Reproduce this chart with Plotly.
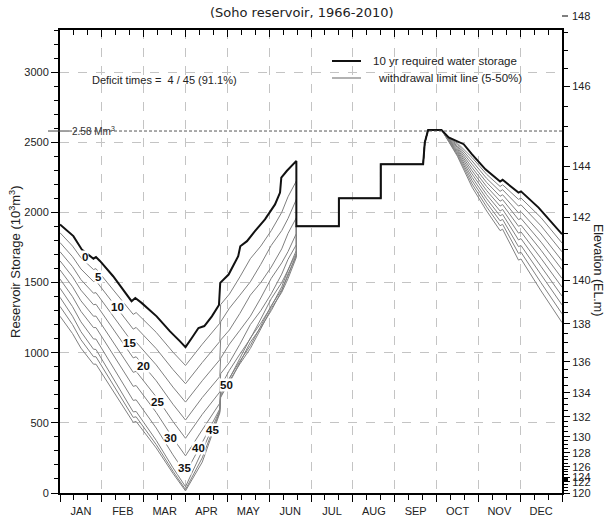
import numpy as np
import plotly.graph_objects as go

# ---------------- data ----------------
month_labels = ["JAN", "FEB", "MAR", "APR", "MAY", "JUN", "JUL", "AUG", "SEP", "OCT", "NOV", "DEC"]
storage_ticks = [0, 500, 1000, 1500, 2000, 2500, 3000]
elev_labels = [148, 146, 144, 142, 140, 138, 136, 134, 132, 130, 128, 126, 124, 122, 120]
elev_storage = [3407, 2900, 2329, 1964, 1514, 1207, 936, 714, 543, 400, 286, 186, 114, 79, 0]
limit_storage = 2580
curve_labels = ["0", "5", "10", "15", "20", "25", "30", "35", "40", "45", "50"]

# 10 yr required water storage (x in months from Jan 1)
black_x = [0, 0.32, 0.52, 0.72, 0.80, 0.86, 0.96, 1.27, 1.60, 1.71, 1.80, 1.95, 2.31, 2.63, 2.87, 3.0,
           3.15, 3.31, 3.45, 3.63, 3.80, 3.83, 4.03, 4.26, 4.31, 4.47, 4.66, 4.90, 5.14, 5.26, 5.29,
           5.42, 5.65, 5.65, 6.667, 6.667, 7.667, 7.667, 8.68, 8.72, 8.80, 9.12, 9.29, 9.45, 9.65,
           9.85, 10.17, 10.52, 10.58, 10.96, 11.02, 11.44, 12.0]
black_y = [1914, 1831, 1736, 1690, 1670, 1682, 1652, 1545, 1414, 1367, 1390, 1355, 1259, 1152, 1081, 1040,
           1105, 1176, 1190, 1259, 1340, 1498, 1557, 1688, 1759, 1795, 1867, 1950, 2057, 2141, 2248,
           2295, 2367, 1902, 1902, 2100, 2100, 2343, 2343, 2498, 2588, 2588, 2534, 2510, 2486,
           2414, 2307, 2220, 2232, 2141, 2150, 2034, 1845]

# withdrawal limit lines (5-50%)
lim_x = [0, 0.3, 0.5, 0.8, 0.86, 1.3, 1.75, 1.82, 2.3, 2.7, 3.0,
         3.4, 3.82, 3.84, 4.05, 4.3, 4.55, 4.8, 5.05, 5.3, 5.45, 5.65, 5.65,
         6.667, 6.667, 7.667, 7.667, 8.68, 8.72, 8.80, 9.12,
         9.3, 9.5, 9.85, 10.2, 10.52, 10.58, 10.96, 11.02, 11.5, 12.0]
lim05 = [1855, 1760, 1677, 1593, 1599, 1440, 1273, 1286, 1145, 1004, 909,
         1060, 1210, 1343, 1418, 1540, 1670, 1760, 1870, 2000, 2111, 2224, 1902,
         1902, 2100, 2100, 2343, 2343, 2498, 2588, 2588,
         2529, 2494, 2391, 2271, 2185, 2197, 2093, 2102, 1962, 1782]
lim10 = [1785, 1684, 1597, 1507, 1512, 1344, 1168, 1180, 1029, 880, 779,
         930, 1080, 1220, 1317, 1410, 1505, 1630, 1765, 1870, 1956, 2093, 1902,
         1902, 2100, 2100, 2343, 2343, 2498, 2588, 2588,
         2526, 2484, 2367, 2242, 2150, 2162, 2045, 2054, 1904, 1719]
lim15 = [1720, 1613, 1521, 1424, 1428, 1250, 1065, 1075, 913, 755, 648,
         800, 950, 1090, 1162, 1280, 1410, 1500, 1610, 1740, 1850, 1962, 1902,
         1902, 2100, 2100, 2343, 2343, 2498, 2588, 2588,
         2522, 2473, 2344, 2213, 2115, 2126, 1997, 2005, 1846, 1656]
lim20 = [1655, 1541, 1446, 1342, 1345, 1158, 963, 971, 800, 633, 520,
         680, 830, 960, 1061, 1160, 1260, 1390, 1530, 1640, 1720, 1850, 1902,
         1902, 2100, 2100, 2343, 2343, 2498, 2588, 2588,
         2519, 2463, 2320, 2184, 2080, 2091, 1949, 1957, 1788, 1593]
lim25 = [1590, 1470, 1370, 1260, 1261, 1065, 860, 867, 685, 510, 390,
         560, 720, 850, 931, 1060, 1200, 1300, 1420, 1560, 1665, 1770, 1902,
         1902, 2100, 2100, 2343, 2343, 2498, 2588, 2588,
         2516, 2452, 2297, 2155, 2045, 2056, 1901, 1909, 1730, 1530]
lim30 = [1525, 1399, 1295, 1179, 1179, 974, 760, 766, 574, 391, 265,
         450, 640, 760, 875, 990, 1100, 1240, 1385, 1500, 1589, 1730, 1902,
         1902, 2100, 2100, 2343, 2343, 2498, 2588, 2588,
         2513, 2442, 2274, 2126, 2010, 2021, 1852, 1861, 1672, 1467]
lim35 = [1460, 1328, 1220, 1098, 1097, 883, 660, 664, 463, 272, 140,
         360, 600, 720, 815, 960, 1105, 1210, 1330, 1470, 1588, 1710, 1902,
         1902, 2100, 2100, 2343, 2343, 2498, 2588, 2588,
         2510, 2431, 2250, 2097, 1975, 1986, 1804, 1813, 1614, 1404]
lim40 = [1395, 1260, 1150, 1025, 1023, 805, 578, 581, 375, 180, 45,
         300, 590, 700, 820, 940, 1050, 1190, 1335, 1450, 1547, 1700, 1902,
         1902, 2100, 2100, 2343, 2343, 2498, 2588, 2588,
         2506, 2421, 2227, 2068, 1940, 1950, 1756, 1764, 1556, 1341]
lim45 = [1330, 1200, 1093, 972, 971, 760, 539, 543, 345, 156, 25,
         250, 580, 690, 785, 930, 1075, 1180, 1300, 1440, 1562, 1690, 1902,
         1902, 2100, 2100, 2343, 2343, 2498, 2588, 2588,
         2503, 2410, 2203, 2039, 1905, 1915, 1708, 1716, 1498, 1278]
lim50 = [1260, 1136, 1033, 918, 918, 716, 504, 510, 321, 140, 15,
         220, 570, 680, 800, 920, 1030, 1170, 1315, 1430, 1527, 1680, 1902,
         1902, 2100, 2100, 2343, 2343, 2498, 2588, 2588,
         2500, 2400, 2180, 2010, 1870, 1880, 1660, 1668, 1440, 1215]

limit_lines = [lim05, lim10, lim15, lim20, lim25, lim30, lim35, lim40, lim45, lim50]

# ---------------- layout helpers ----------------
W, H = 604, 519
L, R, T, B = 60, 42, 30, 26
PW, PH = W - L - R, H - T - B
YMAX = 3300


def px(x):
    return (x - L) / PW


def py(y):
    return (H - B - y) / PH


FONT = "Liberation Sans, Arial, sans-serif"
WIDE = "DejaVu Sans, Verdana, sans-serif"
TXT = "#222222"

fig = go.Figure()

for ys in limit_lines:
    fig.add_trace(go.Scatter(x=lim_x, y=ys, mode="lines",
                             line=dict(color="#808080", width=1),
                             hoverinfo="skip", showlegend=False))

fig.add_trace(go.Scatter(x=black_x, y=black_y, mode="lines",
                         line=dict(color="#111111", width=2),
                         hoverinfo="skip", showlegend=False))

# invisible traces to activate right and top axes
fig.add_trace(go.Scatter(x=[0], y=[0], xaxis="x", yaxis="y2", mode="markers",
                         marker=dict(opacity=0), hoverinfo="skip", showlegend=False))
fig.add_trace(go.Scatter(x=[0], y=[0], xaxis="x2", yaxis="y", mode="markers",
                         marker=dict(opacity=0), hoverinfo="skip", showlegend=False))

month_edges = list(range(13))
dekads = [k / 3 for k in range(37) if k % 3 != 0]

ev = np.array(elev_labels[::-1], dtype=float)
es = np.array(elev_storage[::-1], dtype=float)
half_m = [e for e in np.arange(120.5, 148.0, 0.5) if e not in elev_labels]
elev_minor = [float(v) for v in np.interp(half_m, ev, es) if v <= YMAX]

fig.update_layout(
    width=W, height=H,
    margin=dict(l=L, r=R, t=T, b=B, autoexpand=False),
    plot_bgcolor="white", paper_bgcolor="white",
    font=dict(family=FONT, size=11, color=TXT),
    xaxis=dict(range=[0, 12], tickmode="array", tickvals=month_edges,
               ticktext=month_labels + [" "], ticklabelshift=int(round(PW / 24)),
               ticks="outside", ticklen=7, tickwidth=1, tickcolor="black",
               showline=True, linewidth=2, linecolor="black",
               showgrid=True, gridcolor="#c4c4c4", griddash="dash", gridwidth=1,
               zeroline=False,
               minor=dict(tickmode="array", tickvals=dekads, ticks="outside",
                          ticklen=5, tickwidth=1, tickcolor="black", showgrid=False),
               tickfont=dict(size=11, color=TXT)),
    xaxis2=dict(range=[0, 12], overlaying="x", side="top", tickmode="array",
                tickvals=month_edges, showticklabels=False,
                ticks="inside", ticklen=7, tickwidth=1, tickcolor="black",
                showline=True, linewidth=2, linecolor="black", showgrid=False,
                zeroline=False,
                minor=dict(tickmode="array", tickvals=dekads, ticks="inside",
                           ticklen=5, tickwidth=1, tickcolor="black", showgrid=False)),
    yaxis=dict(range=[0, YMAX], tickmode="array", tickvals=storage_ticks,
               ticks="outside", ticklen=7, tickwidth=1, tickcolor="black",
               showline=True, linewidth=2, linecolor="black",
               showgrid=True, gridcolor="#c4c4c4", griddash="dash", gridwidth=1,
               zeroline=False,
               minor=dict(dtick=100, tick0=0, ticks="outside", ticklen=4,
                          tickwidth=1, tickcolor="black", showgrid=False),
               tickfont=dict(size=11, color=TXT)),
    yaxis2=dict(range=[0, YMAX], overlaying="y", side="right", tickmode="array",
                tickvals=elev_storage, ticktext=[str(e) for e in elev_labels],
                ticks="outside", ticklen=6, tickwidth=1, tickcolor="black",
                showline=True, linewidth=2, linecolor="black", showgrid=False,
                zeroline=False,
                minor=dict(tickmode="array", tickvals=elev_minor, ticks="outside",
                           ticklen=4, tickwidth=1, tickcolor="black", showgrid=False),
                tickfont=dict(size=11, color=TXT)),
)

shapes = []
# 2.58 Mm3 limit line
shapes.append(dict(type="line", xref="paper", yref="y", x0=px(48), x1=px(69),
                   y0=limit_storage, y1=limit_storage, line=dict(color="#444444", width=1)))
shapes.append(dict(type="line", xref="paper", yref="y", x0=px(69), x1=1,
                   y0=limit_storage, y1=limit_storage,
                   line=dict(color="#555555", width=1, dash="3px,2px")))
# legend samples
shapes.append(dict(type="line", xref="paper", yref="paper", x0=px(332), x1=px(361),
                   y0=py(61), y1=py(61), line=dict(color="#111111", width=2)))
shapes.append(dict(type="line", xref="paper", yref="paper", x0=px(332), x1=px(361),
                   y0=py(78), y1=py(78), line=dict(color="#999999", width=1.5)))
# 148 tick above frame
shapes.append(dict(type="line", xref="paper", yref="paper", x0=px(562), x1=px(568),
                   y0=py(16), y1=py(16), line=dict(color="black", width=1)))
fig.update_layout(shapes=shapes)


def note(text, x, y, size=11, family=FONT, xanchor="center", angle=0, color=TXT, **kw):
    d = dict(text=text, xref="paper", yref="paper", x=px(x), y=py(y),
             xanchor=xanchor, yanchor="middle", showarrow=False, textangle=angle,
             font=dict(family=family, size=size, color=color))
    d.update(kw)
    return d


ann = [
    note("(Soho reservoir, 1966-2010)", 302, 13, size=13, family=WIDE),
    note("148", 570, 16, xanchor="left"),
    note("Reservoir Storage (10<sup>3</sup>m<sup>3</sup>)", 15, 262, size=13, angle=-90),
    note("Elevation (EL.m)", 598, 270, size=12.5, angle=90),
    note("Deficit times =\u00a0\u00a04 / 45 (91.1%)", 90, 80, xanchor="left"),
    note("10 yr required water storage", 371, 61, size=11.5, xanchor="left"),
    note("withdrawal limit line (5-50%)", 376, 78, size=11.5, xanchor="left"),
    dict(text="2.58 Mm<sup>3</sup>", xref="paper", yref="y", x=px(70), y=limit_storage,
         xanchor="left", yanchor="middle", showarrow=False,
         font=dict(family=FONT, size=10, color="#333333")),
]

label_px = [(85, 257), (98, 277), (117, 307), (129, 343), (143, 366), (157, 402),
            (170, 438), (184, 468), (198, 448), (212, 430), (226, 385)]
for txt, (lx, ly) in zip(curve_labels, label_px):
    ann.append(note("<b>" + txt + "</b>", lx, ly, size=11.5, color="#111111",
                    bgcolor="white", borderpad=0))
fig.update_layout(annotations=ann)

fig.write_html("out.html", config={"displayModeBar": False},
               post_script="document.body.style.margin='0';document.body.style.padding='0';"
                           "document.documentElement.style.overflow='hidden';")
